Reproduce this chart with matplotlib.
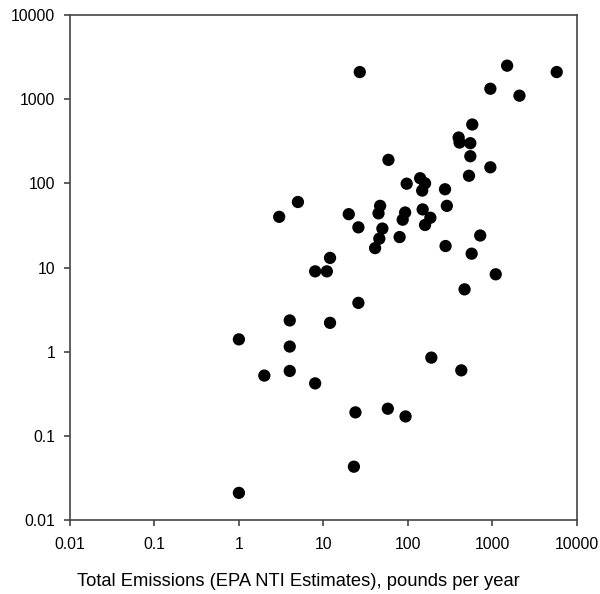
import matplotlib
matplotlib.use("Agg")
import matplotlib.pyplot as plt
import matplotlib.ticker as mticker

plt.rcParams['font.family'] = ['Liberation Sans', 'DejaVu Sans']

emissions = [3, 5, 27, 1500, 5800, 950, 2100, 580, 400, 410, 550, 550, 59, 950, 530,
             140, 160, 97, 148, 276, 290, 47, 45, 20, 93, 87, 150, 185, 160, 26, 50,
             46, 41, 80, 720, 280, 570, 12, 8, 11, 1100, 470, 26, 12, 190, 430, 8,
             24, 58, 94, 23, 1, 4, 4, 4, 2, 1]
measured = [40, 60, 2100, 2500, 2100, 1330, 1100, 500, 350, 305, 300, 210, 190, 155, 123,
            115, 100, 99, 82, 85, 54, 54, 44, 43, 45, 37, 49, 39, 32, 30, 29,
            22, 17, 23, 24, 18, 14.6, 13, 9, 9, 8.3, 5.5, 3.8, 2.2, 0.85, 0.6, 0.42,
            0.19, 0.21, 0.17, 0.043, 1.4, 2.35, 1.15, 0.59, 0.52, 0.021]
tick_values = [0.01, 0.1, 1, 10, 100, 1000, 10000]
tick_labels = ['0.01', '0.1', '1', '10', '100', '1000', '10000']

fig = plt.figure(figsize=(6, 5.94), dpi=100)
ax = fig.add_axes([70/600, 1-520/594, (576.7-70)/600, (520-15)/594])
ax.scatter(emissions, measured, s=78, color='black', edgecolors='none', zorder=3)
ax.set_xscale('log')
ax.set_yscale('log')
ax.set_xlim(0.01, 10000)
ax.set_ylim(0.01, 10000)
ax.xaxis.set_major_locator(mticker.FixedLocator(tick_values))
ax.yaxis.set_major_locator(mticker.FixedLocator(tick_values))
ax.xaxis.set_minor_locator(mticker.NullLocator())
ax.yaxis.set_minor_locator(mticker.NullLocator())
ax.set_xticklabels(tick_labels)
ax.set_yticklabels(tick_labels)
for sp in ax.spines.values():
    sp.set_color('#444444')
    sp.set_linewidth(1.2)
ax.tick_params(axis='both', which='major', length=4.3, width=1.2, color='#444444',
               labelsize=11.3, labelcolor='black', direction='out')
ax.tick_params(axis='x', pad=8)
ax.tick_params(axis='y', pad=6.3)
fig.text(0.497, 1 - 582/594, 'Total Emissions (EPA NTI Estimates), pounds per year',
         fontsize=13.2, ha='center', va='center')

fig.savefig('out.png', dpi=100)
